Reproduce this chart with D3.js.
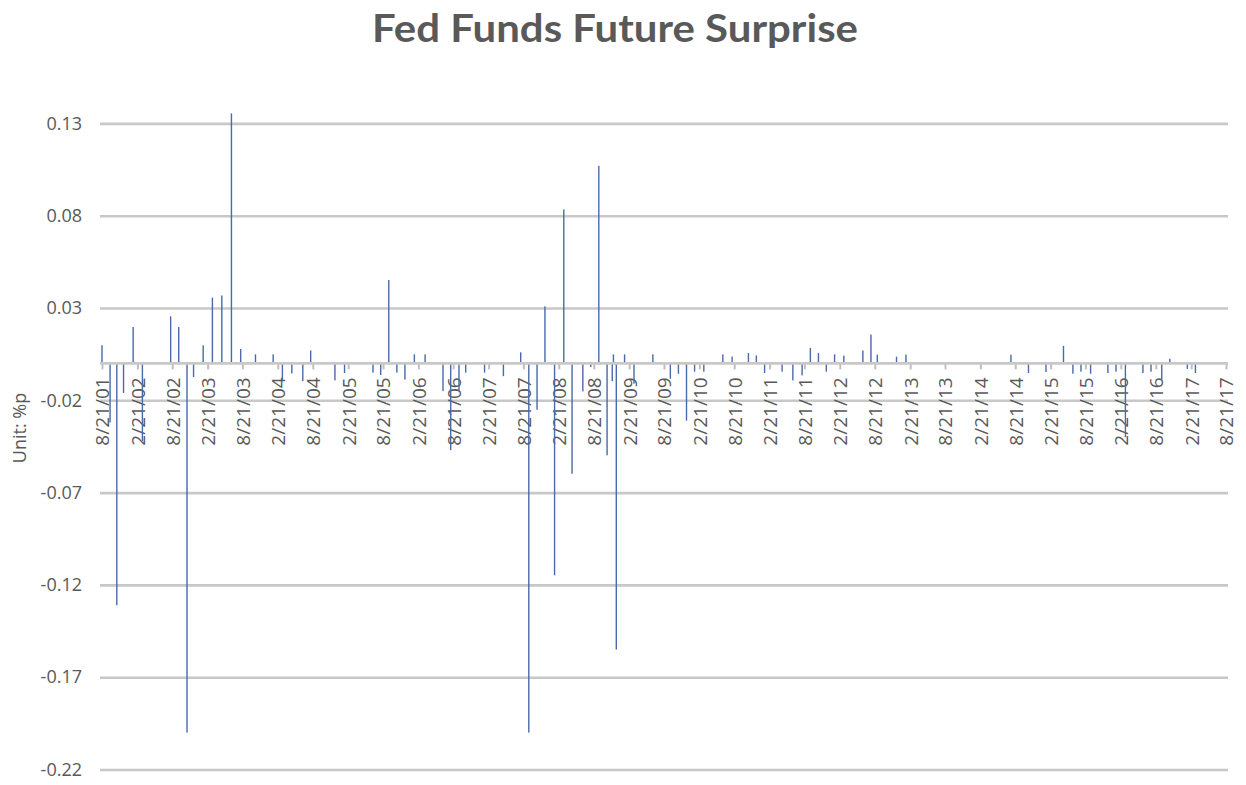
<!DOCTYPE html>
<html>
<head>
<meta charset="utf-8">
<script src="https://cdn.jsdelivr.net/npm/d3@7"></script>
<style>
  body { margin: 0; background: #fff; }
  text { font-family: "Open Sans", sans-serif; }
</style>
</head>
<body>
<div id="vis"></div>
<script>
// FOMC meeting dates and the fed funds future surprise (%p)
var dates = [
  "2001-08-21","2001-10-02","2001-11-06","2001-12-11","2002-01-30","2002-03-19",
  "2002-08-13","2002-09-24","2002-11-06","2002-12-10","2003-01-29","2003-03-18",
  "2003-05-06","2003-06-25","2003-08-12","2003-10-28","2004-01-28","2004-03-16",
  "2004-05-04","2004-06-30","2004-08-10","2004-12-14","2005-02-02","2005-06-30",
  "2005-08-09","2005-09-20","2005-11-01","2005-12-13","2006-01-31","2006-03-28",
  "2006-06-29","2006-08-08","2006-09-20","2006-10-25","2007-01-31","2007-05-09",
  "2007-08-07","2007-09-18","2007-10-31","2007-12-11","2008-01-30","2008-03-18",
  "2008-04-30","2008-06-25","2008-08-05","2008-09-16","2008-10-29","2008-11-25",
  "2008-12-01","2008-12-16","2009-01-28","2009-03-18","2009-06-24","2009-09-23",
  "2009-11-04","2009-12-16","2010-01-27","2010-03-16","2010-06-23","2010-08-10",
  "2010-11-03","2010-12-14","2011-01-26","2011-04-27","2011-06-22","2011-08-09",
  "2011-09-21","2011-11-02","2011-12-13","2012-01-25","2012-03-13","2012-06-20",
  "2012-08-01","2012-09-03","2012-12-12","2013-01-30","2014-07-30","2014-10-29",
  "2015-01-28","2015-04-29","2015-06-17","2015-07-29","2015-09-17","2015-12-16",
  "2016-01-27","2016-03-16","2016-06-15","2016-07-27","2016-09-21","2016-11-02",
  "2017-02-01","2017-03-15"
];
var surprise = [
  0.0098,-0.032,-0.131,-0.016,0.0197,-0.042,
  0.0255,0.0197,-0.200,-0.0074,0.0098,0.0356,
  0.0368,0.1354,0.0078,0.0049,0.0049,-0.0092,
  -0.0055,-0.0096,0.0070,-0.0092,-0.0052,-0.0050,
  -0.0063,0.0452,-0.0050,-0.0088,0.0049,0.0049,
  -0.0150,-0.0470,-0.0146,-0.0050,-0.0050,-0.0069,
  0.0060,-0.200,-0.0251,0.0309,-0.1148,0.0834,
  -0.0598,-0.0152,-0.0020,0.1070,-0.0498,-0.0096,
  0.0049,-0.1550,0.0049,-0.0110,0.0049,-0.0083,
  -0.0056,-0.0310,-0.0045,-0.0045,0.0049,0.0037,
  0.0056,0.0043,-0.0052,-0.0045,-0.0092,-0.0065,
  0.0084,0.0056,-0.0045,0.0049,0.0042,0.0070,
  0.0156,0.0047,0.0036,0.0048,0.0047,-0.0052,
  -0.0047,0.0095,-0.0056,-0.0045,-0.0056,-0.0052,
  -0.0045,-0.0400,-0.0052,-0.0045,-0.0088,0.0025,
  -0.0030,-0.0052
];
var xTickLabels = [
  "8/21/01","2/21/02","8/21/02","2/21/03","8/21/03","2/21/04","8/21/04",
  "2/21/05","8/21/05","2/21/06","8/21/06","2/21/07","8/21/07","2/21/08",
  "8/21/08","2/21/09","8/21/09","2/21/10","8/21/10","2/21/11","8/21/11",
  "2/21/12","8/21/12","2/21/13","8/21/13","2/21/14","8/21/14","2/21/15",
  "8/21/15","2/21/16","8/21/16","2/21/17","8/21/17"
];
var yTicks = [0.13, 0.08, 0.03, -0.02, -0.07, -0.12, -0.17, -0.22];

var W = 1246, H = 785;
var plotLeft = 100, plotRight = 1228;

var parseDay = d3.timeParse("%Y-%m-%d");
var parseTick = d3.timeParse("%m/%d/%y");
var tickDates = xTickLabels.map(function(s){ return parseTick(s); });

var data = dates.map(function(d, i){ return {date: parseDay(d), value: surprise[i]}; });

var x = d3.scaleTime()
    .domain([tickDates[0], tickDates[tickDates.length - 1]])
    .range([102, 1226]);
var y = d3.scaleLinear().domain([-0.22, 0.13]).range([769.5, 123.4]);

var svg = d3.select("#vis").append("svg")
    .attr("width", W)
    .attr("height", H);

// title
svg.append("text")
    .attr("x", 615)
    .attr("y", 42)
    .attr("text-anchor", "middle")
    .style("font-family", "Lato, 'Open Sans', sans-serif")
    .style("font-weight", "bold")
    .style("font-size", "39px")
    .attr("fill", "#595959")
    .attr("textLength", 486)
    .attr("lengthAdjust", "spacingAndGlyphs")
    .text("Fed Funds Future Surprise");

// y axis with gridlines
var yAxis = svg.append("g")
    .attr("transform", "translate(" + plotLeft + ",0)")
    .call(d3.axisLeft(y)
        .tickValues(yTicks)
        .tickSize(-(plotRight - plotLeft))
        .tickPadding(18)
        .tickFormat(function(d){ return d.toFixed(2); }));
yAxis.select(".domain").remove();
yAxis.selectAll(".tick line")
    .attr("stroke", "#c8c8c8")
    .attr("stroke-width", 2.6);
yAxis.selectAll(".tick text")
    .attr("fill", "#595959")
    .style("font-size", "18px");

// y axis title
svg.append("text")
    .attr("transform", "translate(26,428) rotate(-90)")
    .attr("text-anchor", "middle")
    .attr("fill", "#595959")
    .style("font-size", "18px")
    .text("Unit: %p");

// x axis labels at zero
var x0 = y(0);
var xAxis = svg.append("g")
    .attr("transform", "translate(0," + x0 + ")")
    .call(d3.axisBottom(x)
        .tickValues(tickDates)
        .tickSize(6)
        .tickSizeOuter(0)
        .tickFormat(function(d, i){ return xTickLabels[i]; }));
xAxis.select(".domain").remove();
xAxis.selectAll(".tick line")
    .attr("stroke", "#bfbfbf")
    .attr("stroke-width", 2);
xAxis.selectAll(".tick text")
    .attr("fill", "#595959")
    .style("font-size", "19px")
    .attr("transform", "rotate(-90)")
    .attr("x", -14)
    .attr("y", 0)
    .attr("dy", "0.36em")
    .style("text-anchor", "end");

// bars
svg.append("g").selectAll("rect")
    .data(data)
    .enter().append("rect")
    .attr("x", function(d){ return x(d.date) - 0.7; })
    .attr("y", function(d){ return d.value > 0 ? y(d.value) : x0; })
    .attr("width", 1.4)
    .attr("height", function(d){ return Math.abs(y(d.value) - x0); })
    .attr("fill", "#4a6aa8");

// zero line
svg.append("line")
    .attr("x1", plotLeft)
    .attr("x2", plotRight)
    .attr("y1", x0)
    .attr("y2", x0)
    .attr("stroke", "#c8c8c8")
    .attr("stroke-width", 2.6);
</script>
</body>
</html>
